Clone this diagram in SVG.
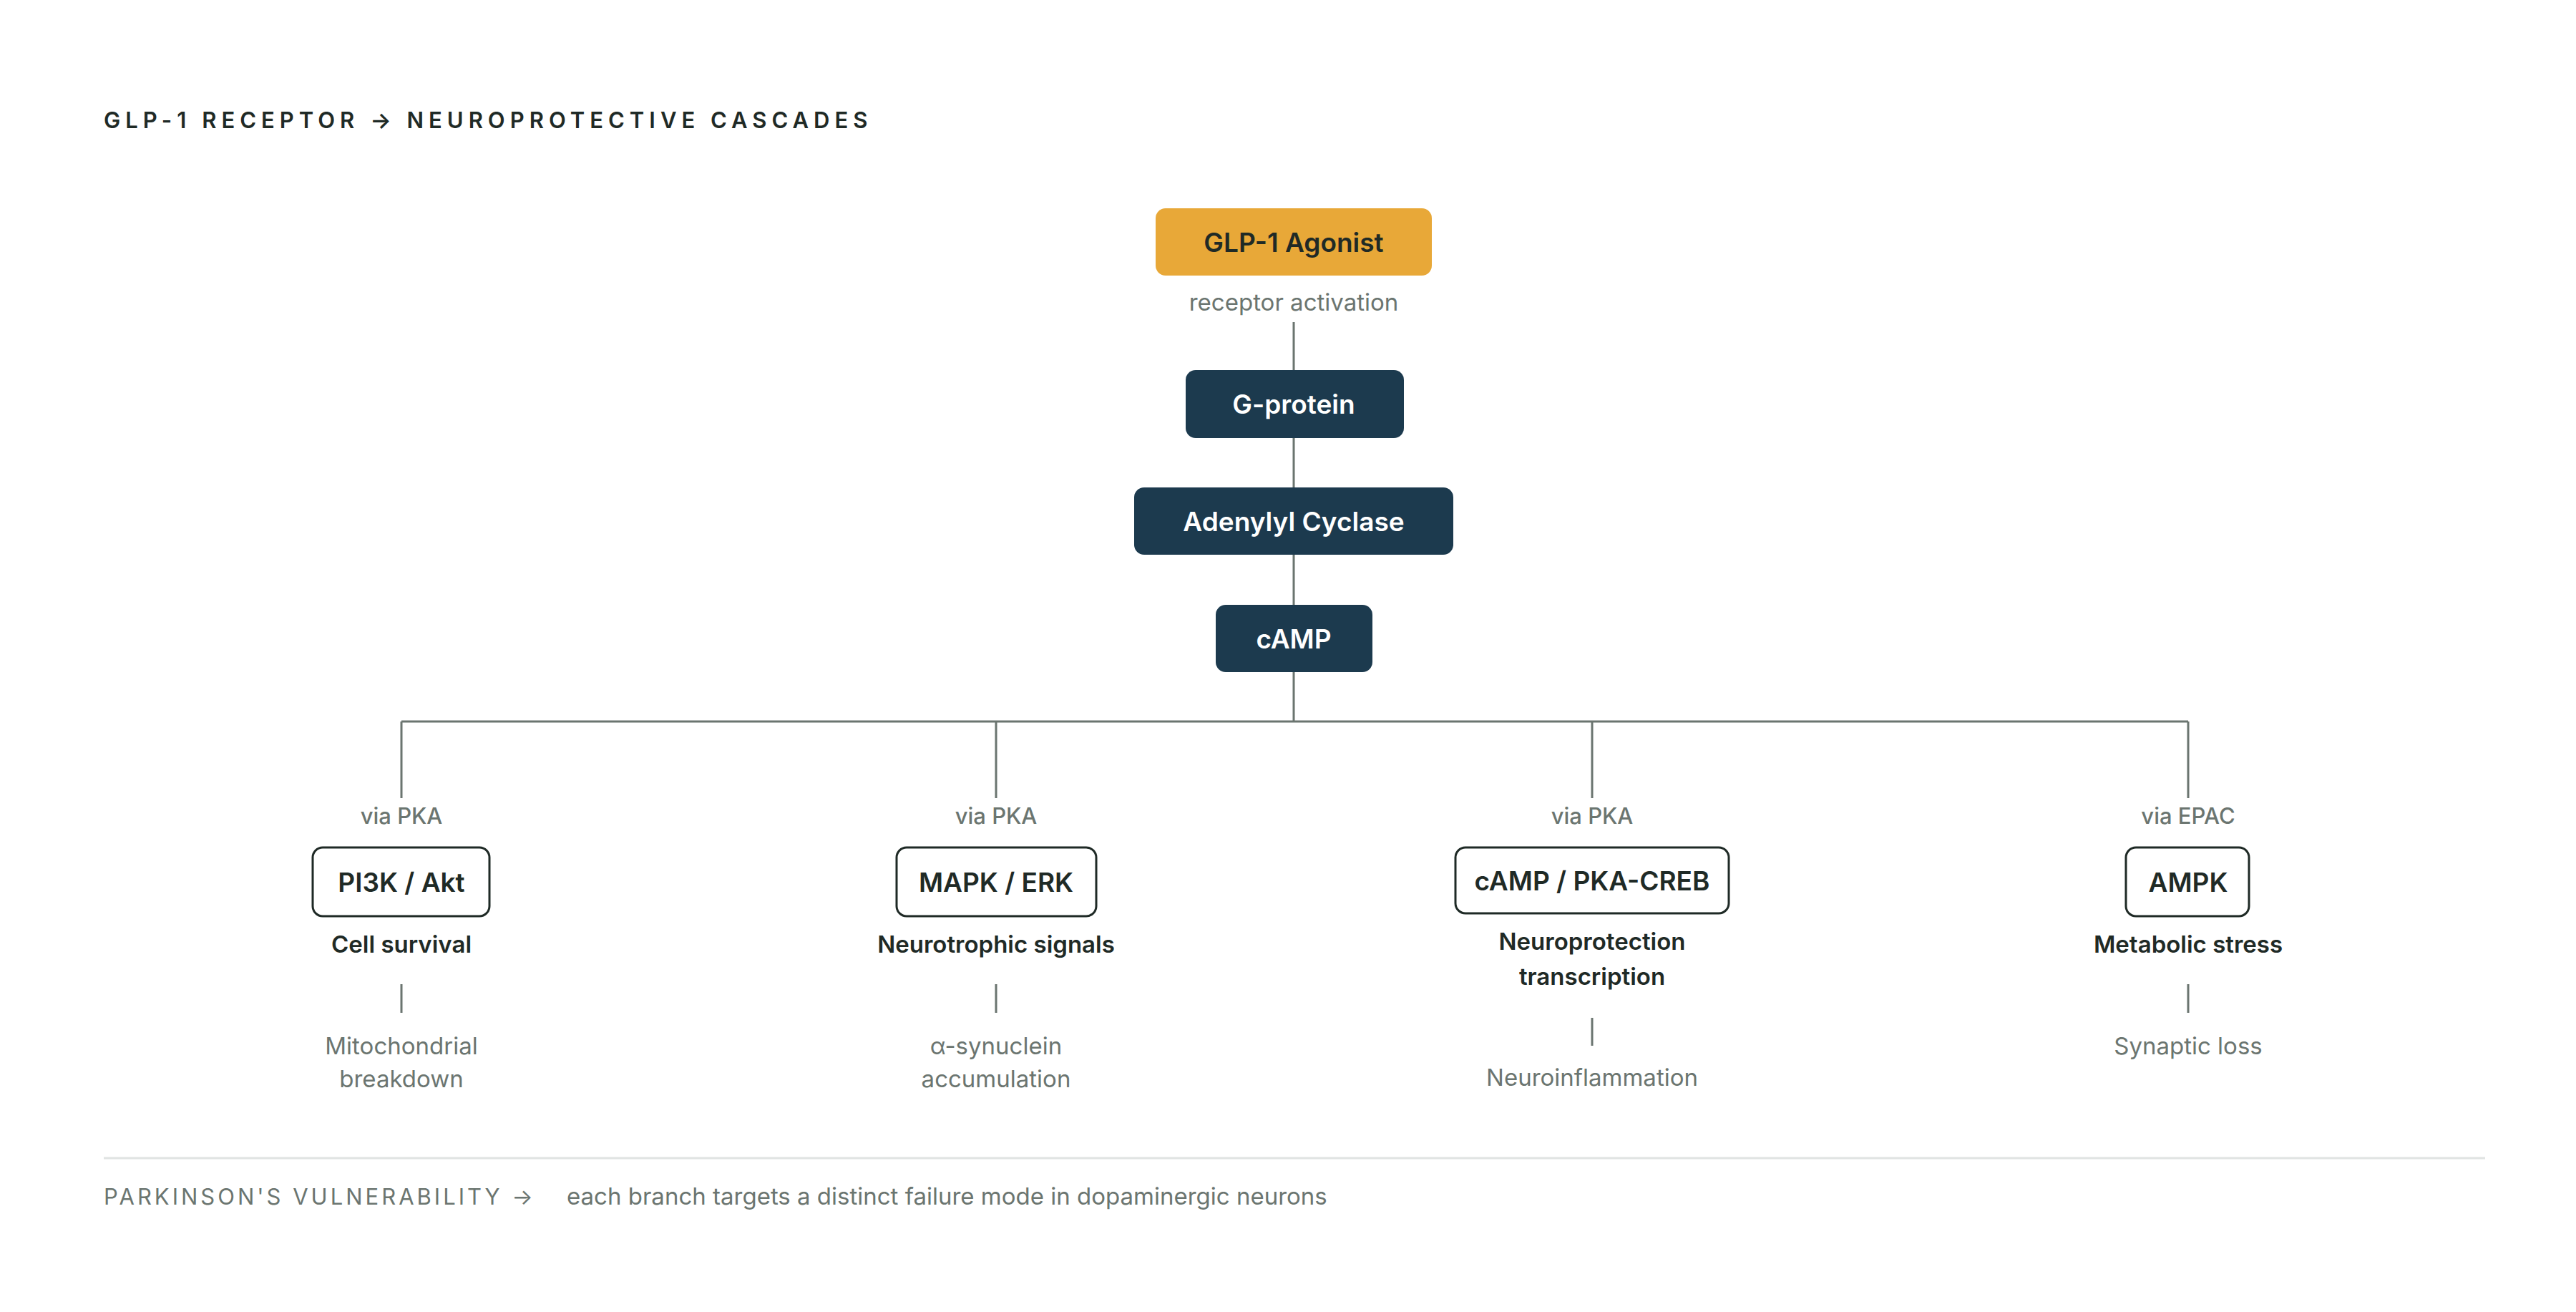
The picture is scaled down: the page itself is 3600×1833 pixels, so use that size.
<svg xmlns="http://www.w3.org/2000/svg" width="3600" height="1833" viewBox="0 0 3600 1833">
<style>
text{font-family:Inter,"Noto Sans","Liberation Sans",sans-serif;text-anchor:middle;dominant-baseline:central}
.title{font-size:31px;font-weight:600;letter-spacing:7px;fill:#1f2a26;text-anchor:start}
.dark{fill:#1c3a4e}
.lbl{font-size:37px;font-weight:600;fill:#ffffff}
.olbl{font-size:37px;font-weight:600;fill:#1f2a26}
.ob{fill:#fff;stroke:#1f2a26;stroke-width:3}
.via{font-size:31px;font-weight:500;fill:#6b7570}
.sub{font-size:33px;font-weight:600;fill:#1f2a26}
.fail{font-size:33px;fill:#6b7570}
.note{font-size:33px;fill:#6b7570}
.con{stroke:#6b7570;stroke-width:3;fill:none}
</style>
<rect width="3600" height="1833" fill="#ffffff"/>
<text class="title" x="145" y="167">GLP-1 RECEPTOR → NEUROPROTECTIVE CASCADES</text>
<g id="connectors">
<path class="con" d="M1808 450V517M1808 612V681M1808 775V845M1808 939V1008M561 1008H3058M561 1008V1115M1392 1008V1115M2225 1008V1115M3058 1008V1115"/>
<path class="con" d="M561 1375V1415M1392 1375V1415M2225 1422V1461M3058 1375V1415" stroke-width="2"/>
</g>
<g id="glp1"><rect x="1615" y="291" width="386" height="94" rx="14" fill="#e8a838"/><text class="olbl" x="1808" y="338">GLP-1 Agonist</text><text class="fail" x="1808" y="422">receptor activation</text></g>
<g id="gprotein"><rect class="dark" x="1657" y="517" width="305" height="95" rx="14"/><text class="lbl" x="1808" y="564">G-protein</text></g>
<g id="adenylyl"><rect class="dark" x="1585" y="681" width="446" height="94" rx="14"/><text class="lbl" x="1808" y="728">Adenylyl Cyclase</text></g>
<g id="camp"><rect class="dark" x="1699" y="845" width="219" height="94" rx="14"/><text class="lbl" x="1808" y="892">cAMP</text></g>
<g id="pi3k"><text class="via" x="561" y="1139">via PKA</text><rect class="ob" x="437" y="1184" width="247" height="96" rx="14"/><text class="olbl" x="561" y="1232">PI3K / Akt</text><text class="sub" x="561" y="1319">Cell survival</text><text class="fail" x="561" y="1461">Mitochondrial</text><text class="fail" x="561" y="1507">breakdown</text></g>
<g id="mapk"><text class="via" x="1392" y="1139">via PKA</text><rect class="ob" x="1253" y="1184" width="279" height="96" rx="14"/><text class="olbl" x="1392" y="1232">MAPK / ERK</text><text class="sub" x="1392" y="1319">Neurotrophic signals</text><text class="fail" x="1392" y="1461">α-synuclein</text><text class="fail" x="1392" y="1507">accumulation</text></g>
<g id="creb"><text class="via" x="2225" y="1139">via PKA</text><rect class="ob" x="2034" y="1184" width="382" height="92" rx="14"/><text class="olbl" x="2225" y="1230">cAMP / PKA-CREB</text><text class="sub" x="2225" y="1315">Neuroprotection</text><text class="sub" x="2225" y="1364">transcription</text><text class="fail" x="2225" y="1505">Neuroinflammation</text></g>
<g id="ampk"><text class="via" x="3058" y="1139">via EPAC</text><rect class="ob" x="2971" y="1184" width="172" height="96" rx="14"/><text class="olbl" x="3058" y="1232">AMPK</text><text class="sub" x="3058" y="1319">Metabolic stress</text><text class="fail" x="3058" y="1461">Synaptic loss</text></g>
<line x1="145" y1="1618" x2="3473" y2="1618" stroke="#e0e3e2" stroke-width="3"/>
<text class="note" x="145" y="1671" style="text-anchor:start;letter-spacing:4px;font-size:31px">PARKINSON'S VULNERABILITY →</text>
<text class="note" x="792" y="1671" style="text-anchor:start">each branch targets a distinct failure mode in dopaminergic neurons</text>
</svg>
